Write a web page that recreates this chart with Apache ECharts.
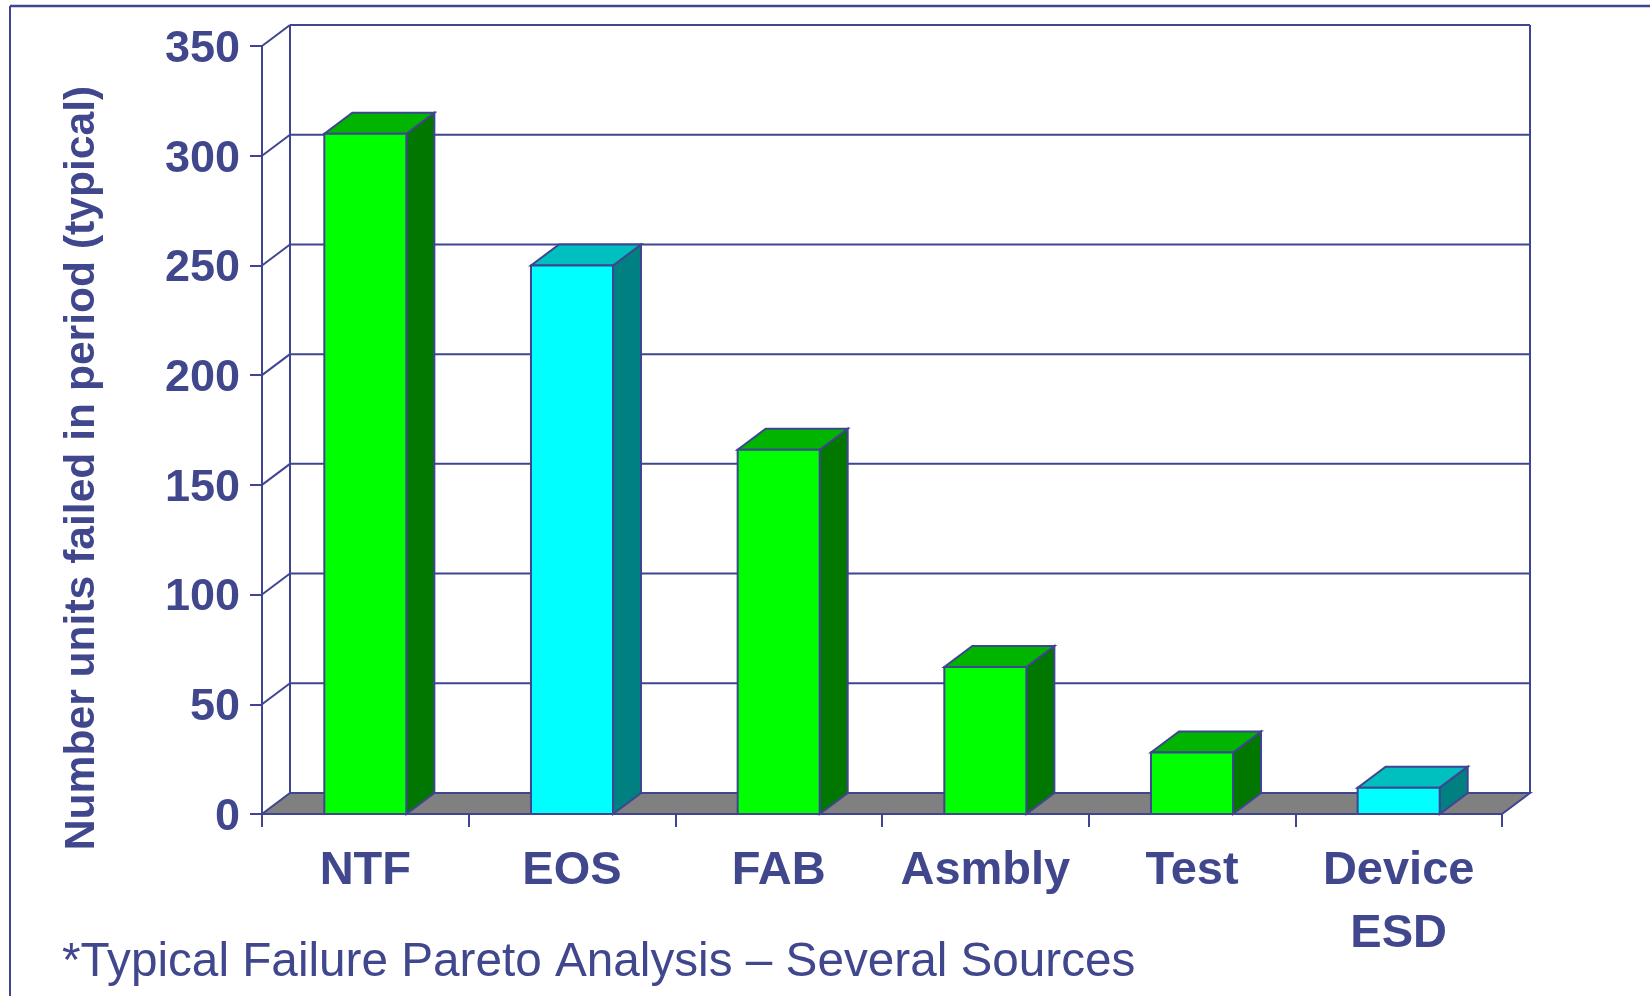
<!DOCTYPE html>
<html>
<head>
<meta charset="utf-8">
<title>Typical Failure Pareto</title>
<script src="https://cdn.jsdelivr.net/npm/echarts@6/dist/echarts.min.js"></script>
<style>
  html, body { margin: 0; padding: 0; background: #ffffff; }
  #chart { width: 1650px; height: 996px; }
</style>
</head>
<body>
<div id="chart"></div>
<script>
// ---- data ----
const categories = ['NTF', 'EOS', 'FAB', 'Asmbly', 'Test', 'Device\nESD'];
const failures = [310, 250, 166, 67, 28, 12];
const yTicks = [0, 50, 100, 150, 200, 250, 300, 350];
const yTitle = 'Number units failed in period (typical)';
const footnote = '*Typical Failure Pareto Analysis \u2013 Several Sources';

// ---- styling ----
const INK = '#3F4590';
const TEXT = '#40478C';
const FONT = '"Liberation Sans", Arial, Helvetica, sans-serif';
const DX = 28;      // oblique depth, px to the right
const DY = -21;     // oblique depth, px upward
const FLOOR = '#808080';
const palettes = {
  green: { front: '#00FF00', top: '#00B400', side: '#007800' },
  cyan:  { front: '#00FFFF', top: '#00BFBF', side: '#008080' }
};
const barShade = ['green', 'cyan', 'green', 'green', 'green', 'cyan'];
const BAR_RATIO = 0.397;

const lineStyle = { stroke: INK, lineWidth: 2 };

// back wall, side wall gridlines and floor
function renderWalls(params, api) {
  const cs = params.coordSys;
  const v = api.value(1);
  const y = api.coord([0, v])[1];
  const left = cs.x, right = cs.x + cs.width;
  const yMax = yTicks[yTicks.length - 1];
  const children = [];
  if (v === 0) {
    children.push({
      type: 'polygon',
      shape: { points: [[left, y], [right, y], [right + DX, y + DY], [left + DX, y + DY]] },
      style: { fill: FLOOR, stroke: INK, lineWidth: 2 }
    });
  } else {
    children.push({
      type: 'line',
      shape: { x1: left + DX, y1: y + DY, x2: right + DX, y2: y + DY },
      style: lineStyle
    });
    children.push({
      type: 'line',
      shape: { x1: left, y1: y, x2: left + DX, y2: y + DY },
      style: lineStyle
    });
  }
  if (v === yMax) {
    const yb = api.coord([0, 0])[1] + DY;
    children.push({ type: 'line', shape: { x1: left + DX, y1: y + DY, x2: left + DX, y2: yb }, style: lineStyle });
    children.push({ type: 'line', shape: { x1: right + DX, y1: y + DY, x2: right + DX, y2: yb }, style: lineStyle });
  }
  return { type: 'group', children };
}

// extruded bars
function renderBars(params, api) {
  const i = api.value(0);
  const v = api.value(1);
  const top = api.coord([i, v]);
  const base = api.coord([i, 0]);
  const w = api.size([1, 0])[0] * BAR_RATIO;
  const x0 = top[0] - w / 2, x1 = top[0] + w / 2;
  const ty = top[1], by = base[1];
  const pal = palettes[barShade[i]];
  const edge = { stroke: INK, lineWidth: 2, lineJoin: 'miter' };
  return {
    type: 'group',
    children: [
      {
        type: 'polygon',
        shape: { points: [[x1, ty], [x1 + DX, ty + DY], [x1 + DX, by + DY], [x1, by]] },
        style: Object.assign({ fill: pal.side }, edge)
      },
      {
        type: 'polygon',
        shape: { points: [[x0, ty], [x1, ty], [x1 + DX, ty + DY], [x0 + DX, ty + DY]] },
        style: Object.assign({ fill: pal.top }, edge)
      },
      {
        type: 'rect',
        shape: { x: x0, y: ty, width: w, height: by - ty },
        style: Object.assign({ fill: pal.front }, edge)
      }
    ]
  };
}

const chart = echarts.init(document.getElementById('chart'), null, { renderer: 'canvas' });

chart.setOption({
  backgroundColor: '#ffffff',
  animation: false,
  title: {
    text: footnote,
    left: 62,
    top: 939,
    padding: 0,
    textStyle: { fontFamily: FONT, fontSize: 47.7, fontWeight: 'normal', color: TEXT }
  },
  grid: { left: 262, right: 148, top: 46, bottom: 182, containLabel: false },
  xAxis: {
    type: 'category',
    data: categories,
    boundaryGap: true,
    axisLine: { show: true, lineStyle: { color: INK, width: 2 } },
    axisTick: { show: true, length: 13, alignWithLabel: false, lineStyle: { color: INK, width: 2 } },
    axisLabel: {
      interval: 0,
      margin: 26,
      fontFamily: FONT,
      fontSize: 47,
      fontWeight: 'bold',
      lineHeight: 63,
      color: TEXT
    },
    splitLine: { show: false }
  },
  yAxis: {
    type: 'value',
    min: yTicks[0],
    max: yTicks[yTicks.length - 1],
    interval: 50,
    name: yTitle,
    nameLocation: 'middle',
    nameGap: 158,
    nameRotate: 90,
    nameTextStyle: {
      fontFamily: FONT,
      fontSize: 42.6,
      fontWeight: 'bold',
      color: TEXT,
      padding: [0, 76, 0, 0]
    },
    axisLine: { show: true, lineStyle: { color: INK, width: 2 } },
    axisTick: { show: true, length: 12, lineStyle: { color: INK, width: 2 } },
    axisLabel: {
      margin: 22,
      fontFamily: FONT,
      fontSize: 45,
      fontWeight: 'bold',
      color: TEXT,
      verticalAlign: 'top',
      lineHeight: 7
    },
    splitLine: { show: false }
  },
  graphic: [
    { type: 'line', shape: { x1: 10, y1: 6, x2: 1650, y2: 6 }, style: { stroke: INK, lineWidth: 2.5 }, z: 10 },
    { type: 'line', shape: { x1: 10, y1: 6, x2: 10, y2: 996 }, style: { stroke: INK, lineWidth: 2 }, z: 10 }
  ],
  series: [
    {
      type: 'custom',
      name: 'walls',
      silent: true,
      z: 1,
      encode: { x: 0, y: 1 },
      data: yTicks.map(v => [0, v]),
      renderItem: renderWalls
    },
    {
      type: 'custom',
      name: 'failures',
      z: 3,
      encode: { x: 0, y: 1 },
      data: failures.map((v, i) => [i, v]),
      renderItem: renderBars
    }
  ]
});
</script>
</body>
</html>
